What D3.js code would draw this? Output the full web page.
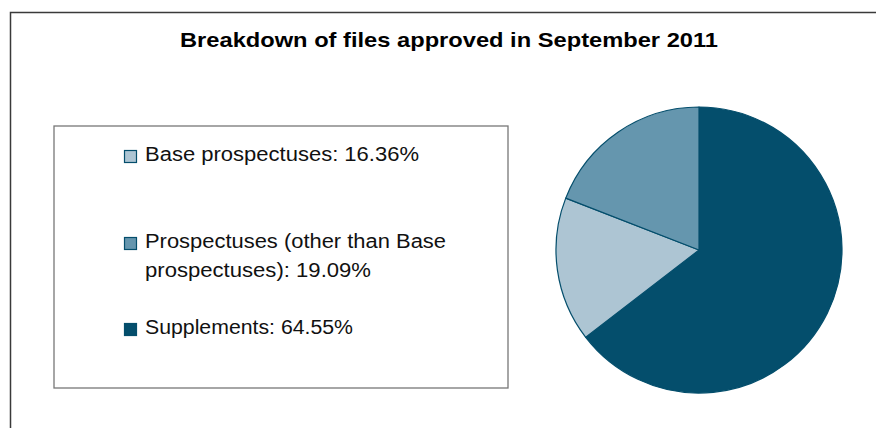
<!DOCTYPE html>
<html>
<head>
<meta charset="utf-8">
<script src="https://cdn.jsdelivr.net/npm/d3@7"></script>
<style>
  body { margin: 0; background: #fff; }
  text { font-family: "Liberation Sans", Arial, sans-serif; }
</style>
</head>
<body>
<script>
// data
var categories = ["Base prospectuses", "Prospectuses (other than Base prospectuses)", "Supplements"];
var shares = [16.36, 19.09, 64.55];
// legend wrapping, last line gets the value
var labelLines = [["Base prospectuses"], ["Prospectuses (other than Base", "prospectuses)"], ["Supplements"]];
var colors = ["#adc5d3", "#6596ae", "#044e6c"];
var pieOrder = [2, 0, 1]; // supplements drawn first, from 12 o'clock

var w = 876, h = 428;

var svg = d3.select("body")
            .append("svg")
            .attr("width", w)
            .attr("height", h);

// outer frame (only top and left visible)
svg.append("path")
   .attr("d", "M10.5,428 L10.5,12.5 L876,12.5")
   .attr("fill", "none")
   .attr("stroke", "#3a3a3a")
   .attr("stroke-width", 1.5);

// title
svg.append("text")
   .attr("x", 180)
   .attr("y", 47)
   .attr("textLength", 538)
   .attr("lengthAdjust", "spacingAndGlyphs")
   .style("font-size", "21px")
   .style("font-weight", "bold")
   .text("Breakdown of files approved in September 2011");

// legend box
svg.append("rect")
   .attr("x", 54)
   .attr("y", 126)
   .attr("width", 454)
   .attr("height", 262)
   .attr("fill", "none")
   .attr("stroke", "#777")
   .attr("stroke-width", 1.3);

var rowY = d3.scalePoint()
             .domain(d3.range(categories.length))
             .range([161, 334]);

var legendWidths = [[274], [301, 226], [208]];

var rows = svg.selectAll("g.legend")
              .data(categories)
              .enter()
              .append("g")
              .attr("class", "legend")
              .attr("transform", function(d, i) {
                  var y = i == 1 ? 248 : rowY(i);
                  return "translate(124," + y + ")";
              });

rows.append("rect")
    .attr("x", 0.5)
    .attr("y", -10.5)
    .attr("width", 12)
    .attr("height", 12)
    .attr("fill", function(d, i) { return colors[i]; })
    .attr("stroke", "#044e6c")
    .attr("stroke-width", 1.2);

rows.each(function(d, i) {
    var lines = labelLines[i].slice();
    lines[lines.length - 1] += ": " + shares[i].toFixed(2) + "%";
    d3.select(this).selectAll("text")
      .data(lines)
      .enter()
      .append("text")
      .attr("x", 21)
      .attr("y", function(l, j) { return j * 28.5; })
      .attr("textLength", function(l, j) { return legendWidths[i][j]; })
      .attr("lengthAdjust", "spacingAndGlyphs")
      .style("font-size", "19.5px")
      .attr("fill", "#111")
      .text(function(l) { return l; });
});

// pie
var pie = d3.pie()
            .sort(null)
            .value(function(d) { return shares[d]; });

var arc = d3.arc()
            .innerRadius(0)
            .outerRadius(143);

svg.append("g")
   .attr("transform", "translate(699,250)")
   .selectAll("path")
   .data(pie(pieOrder))
   .enter()
   .append("path")
   .attr("d", arc)
   .attr("fill", function(d) { return colors[d.data]; })
   .attr("stroke", "#044e6c")
   .attr("stroke-width", 1.2)
   .attr("stroke-linejoin", "round");
</script>
</body>
</html>
